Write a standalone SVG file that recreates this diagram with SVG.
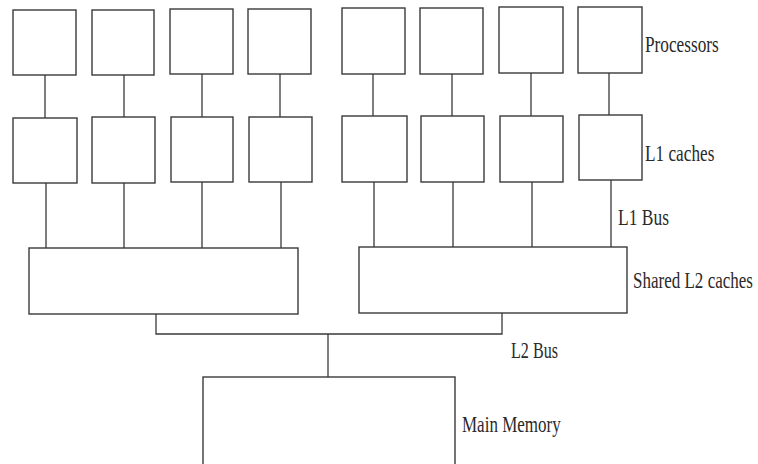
<svg xmlns="http://www.w3.org/2000/svg" width="758" height="464" viewBox="0 0 758 464">
<style>
.box{fill:#fff;stroke:#3a3a3a;stroke-width:1.4}
.ln{fill:none;stroke:#3a3a3a;stroke-width:1.3}
.lbl{font-family:"Liberation Serif","Times New Roman",serif;font-size:23px;fill:#2a2a2a}
</style>
<rect width="758" height="464" fill="#fff"/>
<g id="connectors">
<path class="ln" d="M45 75V118M124 75V117M202 74V117M280 74V117M373 74V116M452 74V116M531 73V116M609 73V115"/>
<path class="ln" d="M46 183V248M124 183V248M202 182V248M281 182V248M374 182V247M453 182V247M532 182V247M611 180V247"/>
<path class="ln" d="M156 314V334H502V313M328 334V377"/>
</g>
<g id="p1"><rect class="box" x="13" y="10" width="63" height="65"/></g>
<g id="p2"><rect class="box" x="92" y="10" width="62" height="65"/></g>
<g id="p3"><rect class="box" x="170" y="9" width="63" height="65"/></g>
<g id="p4"><rect class="box" x="248" y="9" width="63" height="65"/></g>
<g id="p5"><rect class="box" x="342" y="8" width="63" height="66"/></g>
<g id="p6"><rect class="box" x="420" y="8" width="63" height="66"/></g>
<g id="p7"><rect class="box" x="499" y="7" width="64" height="66"/></g>
<g id="p8"><rect class="box" x="578" y="7" width="64" height="66"/></g>
<g id="c1"><rect class="box" x="13" y="118" width="64" height="65"/></g>
<g id="c2"><rect class="box" x="92" y="117" width="63" height="66"/></g>
<g id="c3"><rect class="box" x="171" y="117" width="62" height="65"/></g>
<g id="c4"><rect class="box" x="249" y="117" width="63" height="65"/></g>
<g id="c5"><rect class="box" x="342" y="116" width="65" height="66"/></g>
<g id="c6"><rect class="box" x="421" y="116" width="63" height="66"/></g>
<g id="c7"><rect class="box" x="500" y="116" width="63" height="66"/></g>
<g id="c8"><rect class="box" x="579" y="115" width="63" height="65"/></g>
<g id="l2a"><rect class="box" x="29" y="248" width="269" height="66"/></g>
<g id="l2b"><rect class="box" x="359" y="247" width="268" height="66"/></g>
<g id="mem"><rect class="box" x="203" y="377" width="252" height="95"/></g>
<g id="labels">
<text class="lbl" transform="translate(645 52) scale(0.75 1)">Processors</text>
<text class="lbl" transform="translate(645 161) scale(0.75 1)">L1 caches</text>
<text class="lbl" transform="translate(618 225) scale(0.76 1)">L1 Bus</text>
<text class="lbl" transform="translate(633 288) scale(0.74 1)">Shared L2 caches</text>
<text class="lbl" transform="translate(511 358) scale(0.7 1)">L2 Bus</text>
<text class="lbl" transform="translate(462 432) scale(0.74 1)">Main Memory</text>
</g>
</svg>
